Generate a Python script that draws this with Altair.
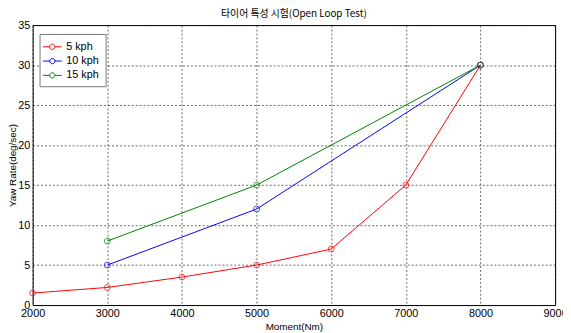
import altair as alt
import pandas as pd

series = ["5 kph", "10 kph", "15 kph"]
colors = ["#ff0000", "#0000ff", "#008000"]

moment_5 = [2000, 3000, 4000, 5000, 6000, 7000, 8000]
yaw_5 = [1.5, 2.2, 3.5, 5.0, 7.0, 15.0, 30.0]
moment_10 = [3000, 5000, 8000]
yaw_10 = [5.0, 12.0, 30.0]
moment_15 = [3000, 5000, 8000]
yaw_15 = [8.0, 15.0, 30.0]

x_ticks = [2000, 3000, 4000, 5000, 6000, 7000, 8000, 9000]
y_ticks = [0, 5, 10, 15, 20, 25, 30, 35]

rows = []
for name, xs, ys in [(series[0], moment_5, yaw_5), (series[1], moment_10, yaw_10), (series[2], moment_15, yaw_15)]:
    for i, (xv, yv) in enumerate(zip(xs, ys)):
        rows.append({"series": name, "moment": xv, "yaw": yv, "order": i})
df = pd.DataFrame(rows)

font = "Liberation Sans"
legend_symbol = "M-1.5,0H-0.42M0.42,0H1.5M0.42,0A0.42,0.42,0,1,1,-0.42,0A0.42,0.42,0,1,1,0.42,0"

x_enc = alt.X("moment:Q", scale=alt.Scale(domain=[2000, 9000], nice=False),
              axis=alt.Axis(values=x_ticks, title="Moment(Nm)", format="d", labelFlush=False))
y_enc = alt.Y("yaw:Q", scale=alt.Scale(domain=[0, 35], nice=False),
              axis=alt.Axis(values=y_ticks, title="Yaw Rate(deg/sec)"))
color_enc = alt.Color("series:N", scale=alt.Scale(domain=series, range=colors),
                      legend=alt.Legend(
                          title=None, orient="none", legendX=7, legendY=9,
                          symbolType=legend_symbol, symbolSize=160, symbolStrokeWidth=1,
                          symbolFillColor="transparent",
                          labelExpr="datum.label == '5 kph' ? '\u00a0\u00a0' + datum.label : datum.label",
                          labelFont=font, labelFontSize=11, labelColor="#000",
                          rowPadding=2.5, padding=6, strokeColor="#777", fillColor="white",
                          labelOffset=7))

lines = alt.Chart(df).mark_line(strokeWidth=1).encode(
    x=x_enc, y=y_enc, color=color_enc, order="order:Q")
points = alt.Chart(df).mark_point(shape="circle", filled=False, size=36, strokeWidth=1).encode(
    x="moment:Q", y="yaw:Q",
    color=alt.Color("series:N", scale=alt.Scale(domain=series, range=colors), legend=None))

chart = (lines + points).properties(
    width=530, height=284,
    title=alt.TitleParams("타이어 특성 시험(Open Loop Test)", font="Noto Sans CJK KR",
                          fontSize=10, fontWeight="normal", color="#000", offset=0),
    autosize=alt.AutoSizeParams(type="none"),
    padding={"left": 25, "top": 15, "right": 8, "bottom": 26},
).configure_view(
    stroke="#000", strokeWidth=1
).configure_axis(
    grid=True, gridColor="#000", gridDash=[2, 2], gridWidth=0.6, gridOpacity=1,
    ticks=False, domain=False, labelFont=font, labelFontSize=11, labelColor="#000",
    titleFont=font, titleFontSize=10, titleFontWeight="normal", titleColor="#000",
    labelPadding=3,
).configure_axisY(titlePadding=0).configure_axisX(titlePadding=3)

chart.save("out.html", embed_options={"renderer": "svg", "actions": False})
